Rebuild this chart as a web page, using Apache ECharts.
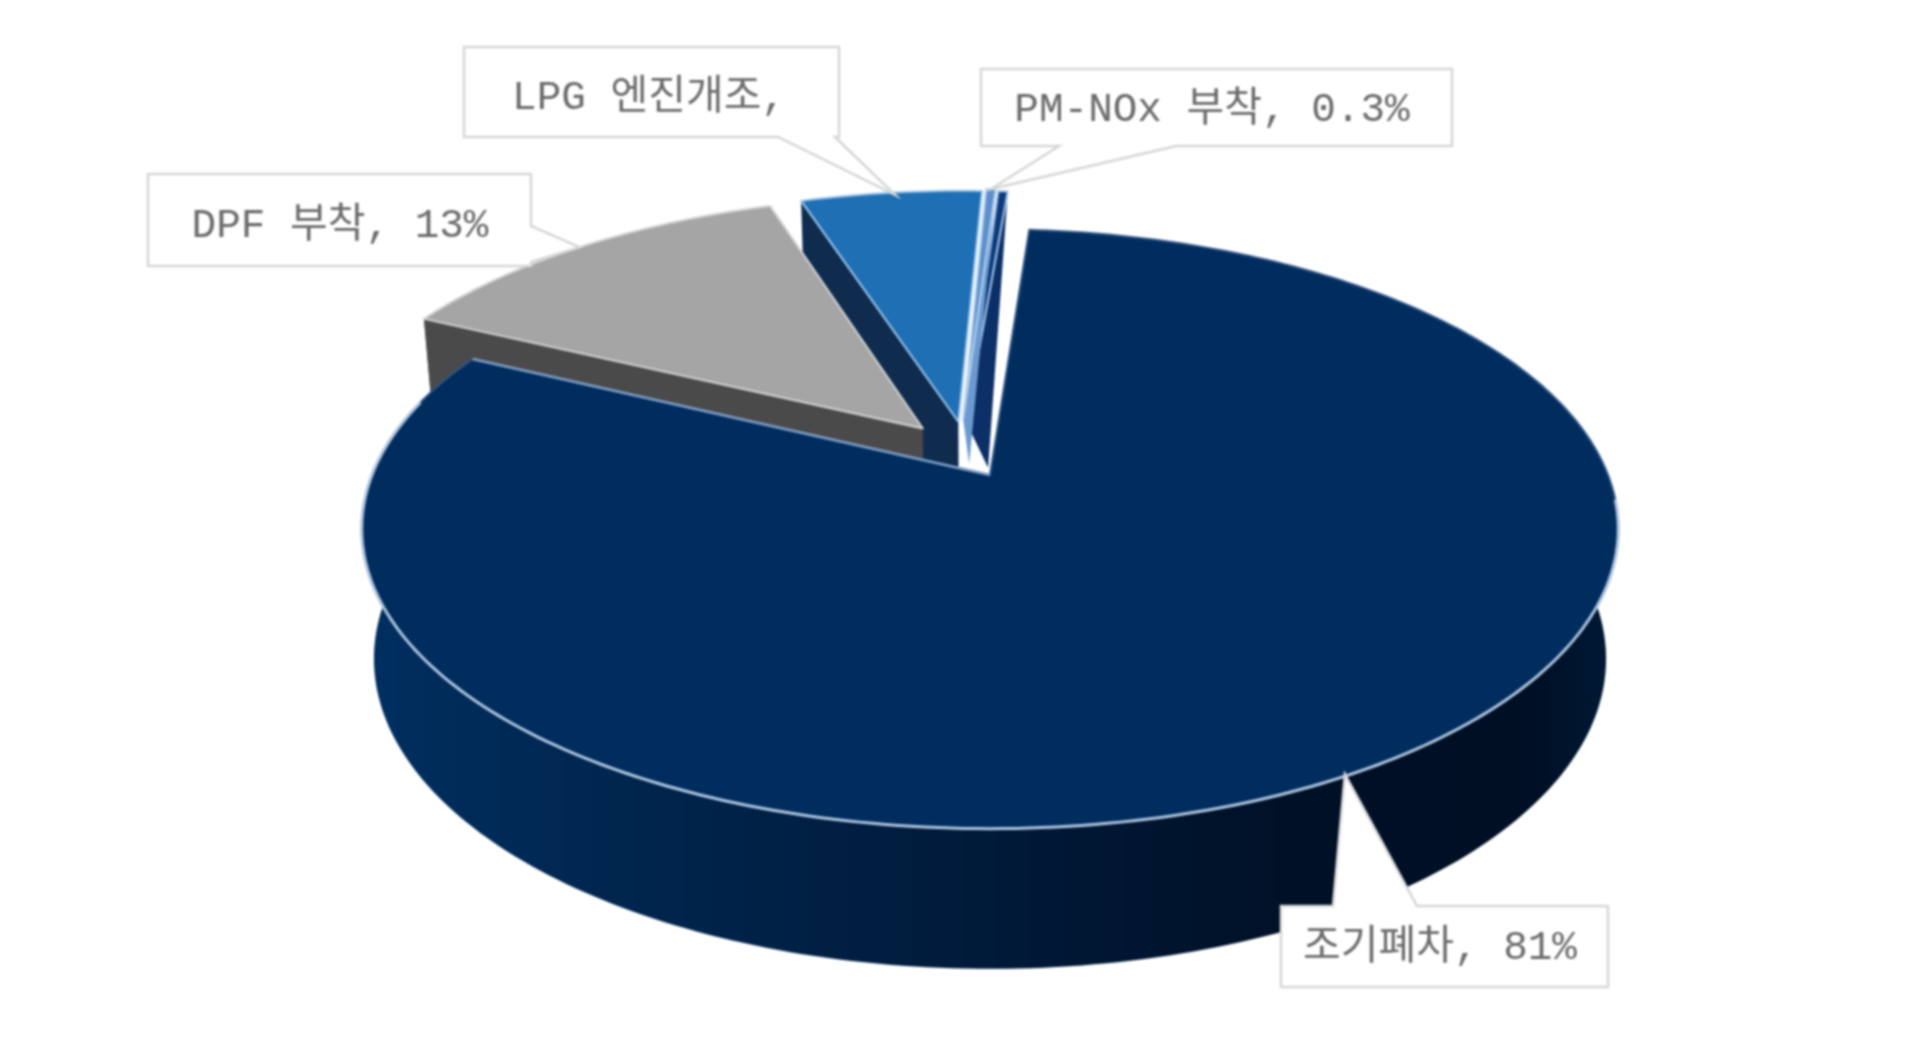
<!DOCTYPE html>
<html><head><meta charset="utf-8">
<style>html,body{margin:0;padding:0;background:#fff}#c{width:1920px;height:1037px;filter:blur(1.2px)}</style>
<script src="https://cdn.jsdelivr.net/npm/echarts@6/dist/echarts.min.js"></script>
</head><body><div id="c"></div>
<script>
// ---- data
const categories = ['조기폐차', 'DPF 부착', 'LPG 엔진개조', 'PM-NOx 부착', '기타'];
const shares = [80.9, 12.8, 5.7, 0.3, 0.3];
const labelTexts = ['조기폐차, 81%', 'DPF 부착, 13%', 'LPG 엔진개조,', 'PM-NOx 부착, 0.3%', ''];

// ---- layout & style
const startAngle = 4.3;
const centerX = 990;
const topPlane = {ax: 618, y0: 475, by: 290};
const bottomPlane = {ax: 606, y0: 603, by: 300};
const persp = 0.18;
const explodeOffsets = [[0, 0], [-0.112, -0.165], [-0.053, -0.19], [-0.045, -0.2], [-0.04, -0.19]];
const topColors = ['#002D5E', '#A5A5A5', '#1F6FB4', '#5C8FCB', '#0D3A7C'];
const wallColors = [null, '#4A4A4A', '#0F2C4F', '#6C9AD0', '#0B2F66'];
const edgeColors = ['#2F5586', '#D4D4D4', '#9CC6EC', '#B4D0EE', '#A9C8EC'];
const thinTips = [null, null, null, [6, 45], [22, 46]];
const showsArcWall = [true, true, false, false, false];
const rimColor = '#AFC4DE';
const callouts = [
  {box: [1281, 906, 1608, 987], side: 'top', base: [1333, 1417], text: [1440, 948], nudge: [-12, 2]},
  {box: [148, 174, 531, 266], side: 'right', base: [226, 262], text: [340, 226], nudge: [0, 0]},
  {box: [464, 47, 839, 137], side: 'bottom', base: [778, 835], text: [649, 98], nudge: [4, 2]},
  {box: [981, 69, 1452, 146], side: 'bottom', base: [1059, 1176], text: [1212, 110], nudge: [0, 0]},
  null
];

// ---- geometry
const total = shares.reduce((a, b) => a + b, 0);
const sliceAngles = [];
shares.reduce((acc, v) => {
  const sweep = v / total * 360;
  sliceAngles.push([acc, acc + sweep]);
  return acc + sweep;
}, startAngle);

function project(theta, offset, plane, atCentre) {
  const r = theta * Math.PI / 180;
  const U = (atCentre ? 0 : Math.sin(r)) + offset[0];
  const V = (atCentre ? 0 : -Math.cos(r)) + offset[1];
  const w = 1 - persp * V;
  return [centerX + plane.ax * U / w, plane.y0 + plane.by * V / w];
}
function arc(a0, a1, offset, plane) {
  const pts = [];
  const n = Math.max(2, Math.ceil(Math.abs(a1 - a0)));
  for (let i = 0; i <= n; i++) pts.push(project(a0 + (a1 - a0) * i / n, offset, plane));
  return pts;
}
const mainWallFill = new echarts.graphic.LinearGradient(0, 0, 1, 0, [
  {offset: 0, color: '#002F60'}, {offset: 0.2, color: '#00264F'}, {offset: 0.45, color: '#001C3D'},
  {offset: 0.75, color: '#001026'}, {offset: 0.93, color: '#000F24'}, {offset: 1, color: '#001A36'}
]);

function renderSlice(params, api) {
  const i = params.dataIndex;
  const [a0, a1] = sliceAngles[i];
  const off = explodeOffsets[i];
  const z2 = i === 0 ? 100 : 50 - i;
  const wall = i === 0 ? mainWallFill : wallColors[i];
  const topArc = arc(a0, a1, off, topPlane);
  const botArc = arc(a0, a1, off, bottomPlane);
  const apexT = project(0, off, topPlane, true);
  const apexB = project(0, off, bottomPlane, true);
  const children = [];
  if (thinTips[i]) {
    children.push({type: 'polygon', z2, shape: {points: [apexT, topArc[topArc.length - 1],
      [apexT[0] + thinTips[i][0], apexT[1] + thinTips[i][1]]]}, style: {fill: wall, stroke: null}});
  } else {
    if (showsArcWall[i]) {
      children.push({type: 'polygon', z2, shape: {points: topArc.concat(botArc.slice().reverse())},
        style: {fill: wall, stroke: null}});
    }
    if (i > 0) {
      children.push({type: 'polygon', z2, shape: {points: [apexT, topArc[0], botArc[0], apexB]},
        style: {fill: wall, stroke: null}});
    }
  }
  children.push({type: 'polygon', z2, shape: {points: [apexT].concat(topArc)},
    style: {fill: topColors[i], stroke: edgeColors[i], lineWidth: 2, lineJoin: 'round'}});
  if (i === 0) {
    children.push({type: 'polyline', z2, shape: {points: arc(95, 285, off, topPlane)},
      style: {fill: null, stroke: rimColor, lineWidth: 3, lineCap: 'round'}});
    children.push({type: 'polyline', z2, shape: {points: [topArc[topArc.length - 1], apexT]},
      style: {fill: null, stroke: '#7FA0CA', lineWidth: 2.4}});
  }
  return {type: 'group', children};
}

function renderCallout(params, api) {
  const i = params.dataIndex;
  const c = callouts[i];
  if (!c) return null;
  const [x0, y0, x1, y1] = c.box;
  const p = project((sliceAngles[i][0] + sliceAngles[i][1]) / 2, explodeOffsets[i], topPlane);
  const tip = [p[0] + c.nudge[0], p[1] + c.nudge[1]];
  let pts;
  if (c.side === 'bottom') pts = [[x0, y0], [x1, y0], [x1, y1], [c.base[1], y1], tip, [c.base[0], y1], [x0, y1]];
  else if (c.side === 'top') pts = [[x0, y0], [c.base[0], y0], tip, [c.base[1], y0], [x1, y0], [x1, y1], [x0, y1]];
  else pts = [[x0, y0], [x1, y0], [x1, c.base[0]], tip, [x1, c.base[1]], [x1, y1], [x0, y1]];
  return {type: 'group', children: [
    {type: 'polygon', shape: {points: pts}, style: {fill: '#FFFFFF', stroke: '#D6D6D6', lineWidth: 2.5}},
    {type: 'text', style: {text: labelTexts[i], x: c.text[0], y: c.text[1], fill: '#6A6A6A',
      font: '41px "Liberation Mono","Noto Sans CJK KR",monospace', textAlign: 'center', textVerticalAlign: 'middle'}}
  ]};
}

const chart = echarts.init(document.getElementById('c'));
const rows = categories.map((name, i) => ({name, value: shares[i]}));
chart.setOption({
  backgroundColor: '#FFFFFF',
  animation: false,
  series: [
    {type: 'custom', name: '비율', coordinateSystem: 'none', data: rows, renderItem: renderSlice, silent: true, z: 2},
    {type: 'custom', name: '라벨', coordinateSystem: 'none', data: rows, renderItem: renderCallout, silent: true, z: 5}
  ]
});
</script></body></html>
